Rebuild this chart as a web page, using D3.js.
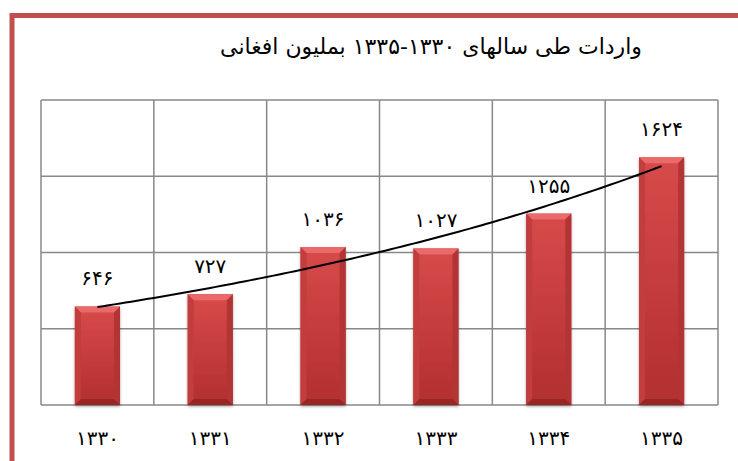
<!DOCTYPE html>
<meta charset="utf-8">
<head>
    <script src="https://d3js.org/d3.v7.min.js"></script>
    <style>
        body { margin: 0; background: #fff; }
        svg text { font-family: "DejaVu Sans", sans-serif; fill: #000; }
    </style>
</head>
<body>
<div id="chart"></div>
<script>
    // years (solar hijri) and imports in million afghani
    var years = ["۱۳۳۰", "۱۳۳۱", "۱۳۳۲", "۱۳۳۳", "۱۳۳۴", "۱۳۳۵"];
    var imports = [646, 727, 1036, 1027, 1255, 1624];
    var yTicks = [0, 500, 1000, 1500, 2000];
    var title = "واردات طی سالهای ۱۳۳۰-۱۳۳۵ بملیون افغانی";

    var data = years.map(function (d, i) { return {year: d, value: imports[i]}; });

    var faDigits = "۰۱۲۳۴۵۶۷۸۹";
    var toFa = function (n) {
        return String(n).replace(/[0-9]/g, function (c) { return faDigits[+c]; });
    };

    var W = 738, H = 461;
    var margin = {top: 100, right: 20, bottom: 56, left: 41},
        width = 718 - margin.left,
        height = 405 - margin.top;

    var root = d3.select("#chart").append("svg")
        .attr("width", W)
        .attr("height", H);

    var defs = root.append("defs");
    var grad = defs.append("linearGradient").attr("id", "barGrad")
        .attr("x1", 0).attr("x2", 0).attr("y1", 0).attr("y2", 1);
    grad.append("stop").attr("offset", "0%").attr("stop-color", "#d84a4a");
    grad.append("stop").attr("offset", "100%").attr("stop-color", "#b22f2f");

    var shadow = defs.append("filter").attr("id", "shadow")
        .attr("x", "-20%").attr("y", "-10%").attr("width", "140%").attr("height", "120%");
    shadow.append("feDropShadow").attr("dx", 0).attr("dy", 1.5)
        .attr("stdDeviation", 1.5).attr("flood-color", "#000").attr("flood-opacity", 0.35);

    // red frame (left and top)
    root.append("path")
        .attr("d", "M12," + H + " V15.5 H" + W)
        .attr("fill", "none")
        .attr("stroke", "#c0504d")
        .attr("stroke-width", 5);

    root.append("text")
        .attr("x", 431)
        .attr("y", 54)
        .attr("text-anchor", "middle")
        .style("font-size", "22px")
        .text(title);

    var svg = root.append("g")
        .attr("transform", "translate(" + margin.left + "," + margin.top + ")");

    var x = d3.scaleBand().domain(years).range([0, width]).paddingInner(0).paddingOuter(0);
    var y = d3.scaleLinear().domain([0, 2000]).range([height, 0]);

    // grid
    svg.append("g").selectAll("line.h")
        .data(yTicks)
        .enter().append("line")
        .attr("x1", 0).attr("x2", width)
        .attr("y1", function (d) { return y(d); })
        .attr("y2", function (d) { return y(d); })
        .attr("stroke", "#888").attr("stroke-width", 1.5);

    svg.append("g").selectAll("line.v")
        .data(years.concat(["end"]))
        .enter().append("line")
        .attr("x1", function (d, i) { return i * x.bandwidth(); })
        .attr("x2", function (d, i) { return i * x.bandwidth(); })
        .attr("y1", 0).attr("y2", height)
        .attr("stroke", "#888").attr("stroke-width", 1.5);

    var bw = x.bandwidth() * 0.4;
    var bev = 6;

    var bars = svg.append("g").selectAll("g.bar")
        .data(data)
        .enter().append("g")
        .attr("transform", function (d) {
            return "translate(" + (x(d.year) + (x.bandwidth() - bw) / 2) + "," + y(d.value) + ")";
        });

    bars.append("rect")
        .attr("width", bw)
        .attr("height", function (d) { return height - y(d.value); })
        .attr("fill", "url(#barGrad)")
        .attr("filter", "url(#shadow)");

    // bevel: top, left, right, bottom
    bars.append("path")
        .attr("d", "M0,0 H" + bw + " L" + (bw - bev) + "," + bev + " H" + bev + " Z")
        .attr("fill", "#e86a6a");
    bars.append("path")
        .attr("d", function (d) {
            var h = height - y(d.value);
            return "M0,0 L" + bev + "," + bev + " V" + (h - bev) + " L0," + h + " Z";
        })
        .attr("fill", "#c23d3d");
    bars.append("path")
        .attr("d", function (d) {
            var h = height - y(d.value);
            return "M" + bw + ",0 L" + (bw - bev) + "," + bev + " V" + (h - bev) + " L" + bw + "," + h + " Z";
        })
        .attr("fill", "#b33434");
    bars.append("path")
        .attr("d", function (d) {
            var h = height - y(d.value);
            return "M0," + h + " L" + bev + "," + (h - bev) + " H" + (bw - bev) + " L" + bw + "," + h + " Z";
        })
        .attr("fill", "#9a2525");

    // value labels
    svg.append("g").selectAll("text")
        .data(data)
        .enter().append("text")
        .attr("x", function (d) { return x(d.year) + x.bandwidth() / 2; })
        .attr("y", function (d) { return y(d.value) - 21; })
        .attr("text-anchor", "middle")
        .style("font-size", "20px")
        .text(function (d) { return toFa(d.value); });

    // category labels
    svg.append("g").selectAll("text")
        .data(years)
        .enter().append("text")
        .attr("x", function (d) { return x(d) + x.bandwidth() / 2; })
        .attr("y", height + 40)
        .attr("text-anchor", "middle")
        .style("font-size", "20px")
        .text(function (d) { return d; });

    // exponential trendline (least squares on ln values)
    var n = imports.length;
    var xs = d3.range(1, n + 1);
    var lns = imports.map(Math.log);
    var mx = d3.mean(xs), ml = d3.mean(lns);
    var b = d3.sum(xs, function (v, i) { return (v - mx) * (lns[i] - ml); }) /
            d3.sum(xs, function (v) { return (v - mx) * (v - mx); });
    var a = ml - b * mx;
    var trend = d3.range(1, n + 0.001, 0.05).map(function (t) {
        return [x(years[0]) + x.bandwidth() / 2 + (t - 1) * x.bandwidth(), y(Math.exp(a + b * t))];
    });

    svg.append("path")
        .datum(trend)
        .attr("d", d3.line())
        .attr("fill", "none")
        .attr("stroke", "#000")
        .attr("stroke-width", 2);
</script>
</body>
